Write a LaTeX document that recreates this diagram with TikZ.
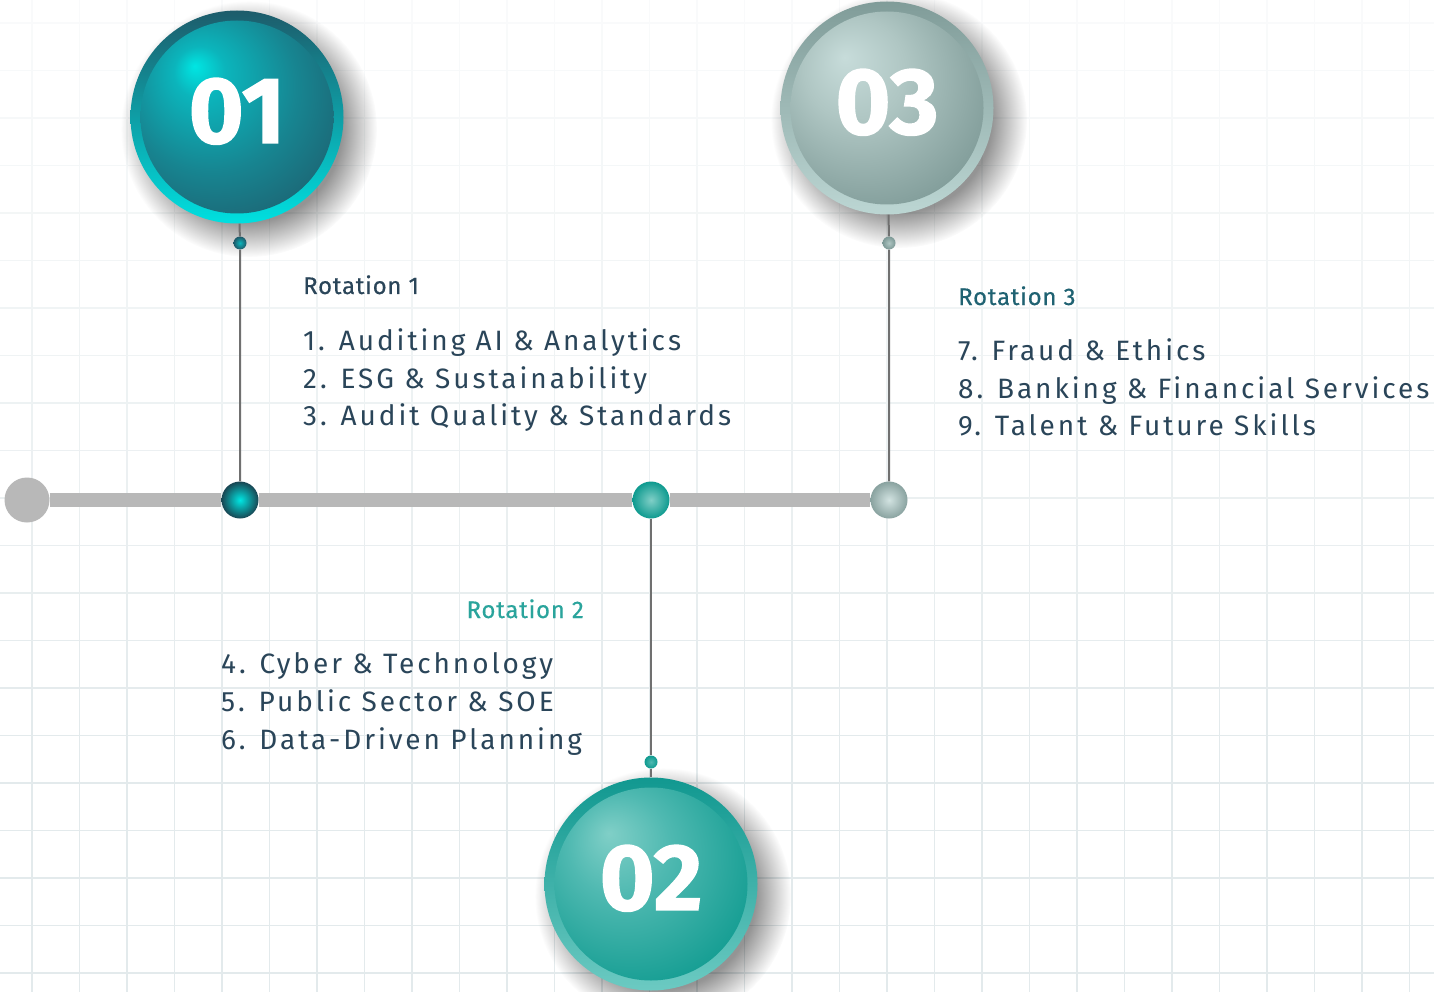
\documentclass[tikz,border=0pt]{standalone}
\usepackage{fontspec}
\setmainfont{Fira Sans}
\newfontfamily\itemfont{Fira Sans}[LetterSpace=10.5]
\newfontfamily\headfont{Fira Sans}[LetterSpace=3, FakeBold=0.5]
\newfontfamily\numfont{Fira Sans}[BoldFeatures={FakeBold=1.5}]
\usetikzlibrary{fadings,backgrounds}
\definecolor{gridline}{HTML}{E3EAEC}
\definecolor{bargray}{HTML}{B8B8B8}
\definecolor{stemgray}{HTML}{707070}
\definecolor{ink}{HTML}{2A4559}
\definecolor{headone}{HTML}{2A4559}
\definecolor{headtwo}{HTML}{2AA49C}
\definecolor{headthree}{HTML}{1F6272}
\definecolor{ringoneTop}{HTML}{1D5C6B}
\definecolor{ringoneBot}{HTML}{00E0E0}
\definecolor{ringtwoTop}{HTML}{119890}
\definecolor{ringtwoBot}{HTML}{6CCAC2}
\definecolor{ringthreeTop}{HTML}{809C99}
\definecolor{ringthreeBot}{HTML}{BCD6D3}
\definecolor{oneHi}{HTML}{00E6E3}
\definecolor{oneA}{HTML}{0BB5BC}
\definecolor{oneB}{HTML}{178591}
\definecolor{oneLo}{HTML}{1F5868}
\definecolor{twoHi}{HTML}{80CFC7}
\definecolor{twoA}{HTML}{4FB9B1}
\definecolor{twoLo}{HTML}{0E9A8F}
\definecolor{threeHi}{HTML}{C7DCDA}
\definecolor{threeA}{HTML}{AFC6C3}
\definecolor{threeLo}{HTML}{7C9895}
\pgfdeclareradialshading{ballone}{\pgfpoint{-10bp}{12bp}}{color(0bp)=(oneHi); color(6bp)=(oneA); color(20bp)=(oneB); color(36bp)=(oneLo); color(50bp)=(oneLo)}
\pgfdeclareradialshading{balltwo}{\pgfpoint{-10bp}{12bp}}{color(0bp)=(twoHi); color(12bp)=(twoA); color(32bp)=(twoLo); color(50bp)=(twoLo)}
\pgfdeclareradialshading{ballthree}{\pgfpoint{-10bp}{12bp}}{color(0bp)=(threeHi); color(12bp)=(threeA); color(32bp)=(threeLo); color(50bp)=(threeLo)}
\pgfdeclareradialshading{shadowshade}{\pgfpointorigin}{color(0bp)=(white); color(18bp)=(white); color(25bp)=(black); color(50bp)=(black)}
\pgfdeclarefading{ballshadow}{\pgfuseshading{shadowshade}}
\begin{document}
\begin{tikzpicture}[x=1pt,y=-1pt,
  bigball/.style n args={3}{circle, minimum size=213pt, inner sep=0pt,
    top color=#1, bottom color=#2,
    path picture={\shade[shading=#3] (path picture bounding box.center) circle[radius=96.5pt];},
    text=white, text depth=13pt, font=\numfont\bfseries\fontsize{94}{94}\selectfont},
  softshadow/.style={fill=black, opacity=0.42, path fading=ballshadow},
  dot/.style n args={3}{circle, minimum size=#3, inner sep=0pt, inner color=#1, outer color=#2},
  stem/.style={draw=stemgray, line width=2pt},
  bar/.style={draw=bargray, line width=14pt},
  head/.style={anchor=base west, inner sep=0pt, font=\headfont\fontsize{24}{24}\selectfont},
  item/.style={anchor=base west, inner sep=0pt, text=ink, font=\itemfont\fontsize{28}{28}\selectfont}]
\useasboundingbox (0,0) rectangle (1434,992);
\begin{scope}[on background layer]
\fill[white] (0,0) rectangle (1434,992);
\foreach \gx in {0,...,29}
  \draw[gridline, line width=1.6pt] ({32+47.5*\gx},0) -- ++(0,992);
\foreach \gy in {0,...,20}
  \draw[gridline, line width=1.6pt] (0,{23+47.5*\gy}) -- ++(1434,0);
\foreach \k in {0,...,24}
  \fill[white, opacity={0.8*(1-\k/25)}] (0,{30*\k}) rectangle ++(1434,30);
\end{scope}

\node[bigball={ringoneTop}{ringoneBot}{ballone}] (c01) at (237,117) {01};
\node[bigball={ringthreeTop}{ringthreeBot}{ballthree}] (c03) at (887,108) {03};
\node[bigball={ringtwoTop}{ringtwoBot}{balltwo}] (c02) at (651,884) {02};

\node[circle, minimum size=45pt, inner sep=0pt, fill=bargray] (d0) at (27,500) {};
\node[dot={oneHi}{oneLo!80!black}{37pt}] (d1) at (240,500) {};
\node[dot={twoHi}{twoLo}{37pt}] (d2) at (651,500) {};
\node[dot={threeHi!80!white}{threeLo!90!white}{37pt}] (d3) at (889,500) {};
\node[dot={oneA}{oneLo}{13pt}] (s1) at (240,243) {};
\node[dot={twoA}{twoLo}{13pt}] (s2) at (651,762) {};
\node[dot={threeA}{threeLo}{13pt}] (s3) at (889,243) {};

\begin{scope}[on background layer]
\fill[softshadow] ([shift={(12,12)}]c01.center) circle (128);
\fill[softshadow] ([shift={(12,12)}]c03.center) circle (128);
\fill[softshadow] ([shift={(12,12)}]c02.center) circle (128);
\end{scope}

\draw[bar] (d0) -- (d1) -- (d2) -- (d3);
\draw[stem] (c01) -- (s1) -- (d1);
\draw[stem] (c03) -- (s3) -- (d3);
\draw[stem] (d2) -- (s2) -- (c02);

\node[head, text=headone] (r1) at (303,294) {Rotation 1};
\node[item] (r1a) at (303,350) {1. Auditing AI \& Analytics};
\node[item] (r1b) at (303,388) {2. ESG \& Sustainability};
\node[item] (r1c) at (303,425) {3. Audit Quality \& Standards};

\node[head, text=headtwo, anchor=base east] (r2) at (584,618) {Rotation 2};
\node[item] (r2a) at (221,673) {4. Cyber \& Technology};
\node[item] (r2b) at (221,711) {5. Public Sector \& SOE};
\node[item] (r2c) at (221,749) {6. Data-Driven Planning};

\node[head, text=headthree] (r3) at (958,305) {Rotation 3};
\node[item] (r3a) at (958,360) {7. Fraud \& Ethics};
\node[item] (r3b) at (958,398) {8. Banking \& Financial Services};
\node[item] (r3c) at (958,435) {9. Talent \& Future Skills};
\end{tikzpicture}
\end{document}
